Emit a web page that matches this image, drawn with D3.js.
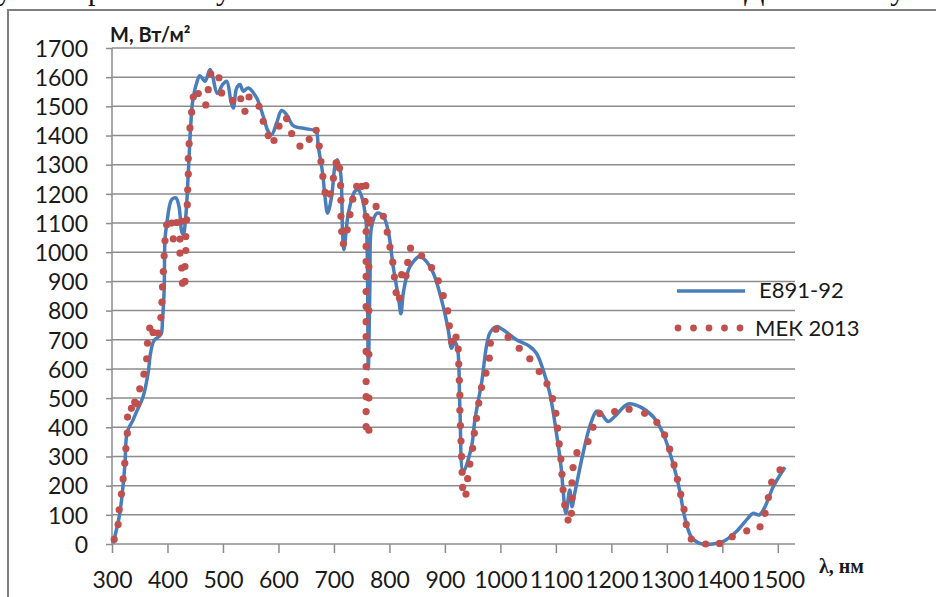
<!DOCTYPE html>
<html>
<head>
<meta charset="utf-8">
<script src="https://cdn.jsdelivr.net/npm/d3@7/dist/d3.min.js"></script>
<style>
  body { margin: 0; background: #fff; }
</style>
</head>
<body>
<div id="viz"></div>
<script>
// E891-92, сплошная сглаженная линия
var e891Wave = [302, 314, 323, 327.6, 338, 343, 356, 365, 369.5, 375.7, 388, 391, 394, 395.5, 398.5,
    407.5, 415, 420.7, 425.6, 428.5, 433, 437.5, 441.8, 445.4, 452.6, 458.5, 467.6, 476.6, 481.4, 489.8,
    499.5, 506.7, 514.4, 518.6, 524.7, 530.6, 536.6, 545.6, 560.7, 572.6, 581.6, 587.7, 596.7, 605.7, 614.7,
    626.6, 650.8, 667.6, 671.7, 679.5, 683.8, 688.6, 695.9, 701.8, 706, 712, 715.6, 718, 726, 737.8,
    743.8, 749.8, 757.6, 760, 762, 765, 768, 778, 789, 798, 806.8, 812.8, 817.6, 820.7, 825,
    831, 837, 855, 864, 879, 897, 906, 912, 918, 923, 927, 933, 948, 954, 966,
    981, 993, 1005, 1029, 1053, 1065, 1077, 1089, 1101, 1110, 1113, 1118, 1125, 1129, 1134,
    1149, 1161, 1173, 1179, 1194, 1206, 1230, 1251, 1275, 1293, 1311, 1323, 1332, 1344, 1359,
    1383, 1401, 1425, 1446, 1455, 1467, 1477, 1492, 1513];
var e891Value = [2, 105, 265, 385, 425, 448, 505, 585, 654, 697, 717, 768, 871, 1043, 1094,
    1180, 1186, 1157, 1071, 1060, 1123, 1272, 1432, 1517, 1580, 1605, 1586, 1626, 1603, 1544,
    1575, 1586, 1517, 1494, 1563, 1575, 1552, 1563, 1529, 1466, 1414, 1403, 1443, 1486, 1472,
    1434, 1423, 1414, 1363, 1272, 1192, 1134, 1192, 1295, 1317, 1272, 1066, 1009, 1134, 1209,
    1214, 1192, 1111, 1000, 600, 900, 1089, 1134, 1123, 1071, 951, 883, 826, 789, 860,
    917, 951, 986, 974, 929, 814, 734, 671, 694, 666, 471, 248, 334, 425, 551,
    723, 745, 734, 700, 677, 654, 597, 517, 380, 254, 185, 105, 185, 128, 174,
    311, 402, 455, 454, 420, 437, 480, 471, 437, 380, 277, 185, 94, 25, 2,
    0, 8, 42, 88, 105, 100, 128, 197, 263];

// МЕК 2013, точки
var mekWave = [304, 311, 313, 317, 320, 323, 325, 327.6, 328, 335, 341, 345.6, 350, 357.6, 362.5,
    364, 368, 374, 383, 388, 390, 391, 392.5, 394, 395.5, 398.5, 407.5, 410.5, 416.5, 422.5,
    422.5, 425.6, 425.6, 427, 431.5, 431.5, 433, 433, 434.6, 435.7, 436.4, 437.5, 437.5, 439, 440.5,
    443.5, 446.5, 455.5, 469, 473.5, 478, 492.8, 497.6, 517.5, 532, 539.6, 547, 565, 572.6, 581.6,
    592, 601, 614.7, 623.8, 638.7, 655.5, 668, 673.5, 676.6, 680, 684, 693, 699, 704, 710,
    712, 712.6, 712.6, 714, 717, 724, 729, 734, 741, 750, 756, 757.6,
    758, 758, 758, 758, 758, 758, 758, 758, 758, 758, 758, 758, 758, 758, 758,
    763, 763, 763, 763, 763, 763, 765, 776, 789, 796, 801, 806, 809, 812, 818,
    822, 830, 833, 838, 858, 876, 888, 897, 905, 908, 912, 920, 924, 925, 926,
    927, 927, 928, 929, 930, 931, 932, 938, 941, 945, 950, 953, 957, 961, 966,
    974, 980, 982, 992, 1014, 1034, 1053, 1070, 1084, 1094, 1100, 1103, 1106, 1109, 1111,
    1113, 1116, 1122, 1128, 1129, 1129, 1131, 1138, 1158, 1167, 1179, 1206, 1232, 1260, 1282,
    1296, 1305, 1313, 1319, 1325, 1331, 1335, 1344, 1370, 1395, 1418, 1444, 1468, 1477, 1483,
    1489, 1504];
var mekValue = [16, 67, 117, 171, 223, 277, 327, 380, 435, 465, 486, 480, 532, 582, 635,
    688, 740, 725, 723, 776, 829, 881, 934, 988, 1039, 1094, 1100, 1046, 1102, 1045,
    997, 1106, 946, 894, 900, 951, 1006, 1054, 1111, 1163, 1214, 1268, 1321, 1372, 1426,
    1480, 1532, 1544, 1505, 1557, 1611, 1598, 1546, 1520, 1526, 1483, 1532, 1500, 1449, 1400,
    1383, 1432, 1458, 1407, 1364, 1387, 1418, 1364, 1311, 1260, 1205, 1200, 1254, 1306, 1288,
    1229, 1178, 1123, 1071, 1029, 1077, 1129, 1182, 1226, 1226, 1174, 1228,
    1123, 1071, 1020, 968, 917, 865, 814, 762, 711, 660, 608, 557, 505, 454, 402,
    1100, 950, 800, 650, 500, 390, 1111, 1157, 1123, 1069, 1018, 966, 915, 862, 843,
    923, 919, 965, 1014, 988, 947, 902, 851, 799, 748, 694, 709, 668, 617, 561,
    510, 458, 406, 353, 300, 246, 194, 171, 224, 274, 328, 380, 431, 483, 536,
    586, 637, 688, 736, 709, 671, 635, 591, 549, 498, 448, 397, 343, 291, 239,
    186, 134, 82, 105, 157, 210, 262, 313, 351, 400, 447, 454, 462, 448, 417,
    374, 325, 271, 222, 170, 119, 67, 17, 0, 2, 25, 45, 59, 105, 159,
    212, 254];

var xTicks = [300, 400, 500, 600, 700, 800, 900, 1000, 1100, 1200, 1300, 1400, 1500];
var yTicks = [0, 100, 200, 300, 400, 500, 600, 700, 800, 900, 1000, 1100, 1200, 1300, 1400, 1500, 1600, 1700];
var seriesNames = ["E891-92", "МЕК 2013"];

var blue = "#4a7ebb";
var red = "#c0504d";
var gridColor = "#8c8c8c";
var font = "Lato, 'Open Sans', sans-serif";

var svg = d3.select("#viz").append("svg")
    .attr("width", 936)
    .attr("height", 597);

var x = d3.scaleLinear().domain([300, 1531]).range([112, 795]);
var y = d3.scaleLinear().domain([0, 1700]).range([544, 48]);

drawPageText();
drawFrame();
drawGrid();
drawAxes();
drawE891();
drawMek();
drawLegend();

// обрезанная строка текста документа над рисунком (видны только хвосты букв)
function drawPageText() {
    var words = [{x: -3, t: "у"}, {x: 72, t: "при"}, {x: 200, t: "ну"},
                 {x: 744, t: "Д"}, {x: 876, t: "ку"}];
    svg.append("g").selectAll("text")
        .data(words)
        .enter()
        .append("text")
        .attr("x", function(d) { return d.x; })
        .attr("y", 0)
        .attr("font-family", "'Liberation Serif', serif")
        .attr("font-size", "30px")
        .attr("fill", "#111")
        .text(function(d) { return d.t; });
}

function drawFrame() {
    svg.append("rect")
        .attr("x", 8)
        .attr("y", 10)
        .attr("width", 960)
        .attr("height", 620)
        .attr("fill", "#fff")
        .attr("stroke", "#7f7f7f")
        .attr("stroke-width", 2);
}

function drawGrid() {
    svg.append("g").selectAll("line")
        .data(yTicks.filter(function(d) { return d > 0; }))
        .enter()
        .append("line")
        .attr("x1", 112)
        .attr("x2", 795)
        .attr("y1", function(d) { return y(d); })
        .attr("y2", function(d) { return y(d); })
        .attr("stroke", gridColor)
        .attr("stroke-width", 1.5);
}

function drawAxes() {
    var xAxis = d3.axisBottom(x)
        .tickValues(xTicks)
        .tickSize(9)
        .tickFormat(d3.format("d"));

    var gx = svg.append("g")
        .attr("transform", "translate(0," + y(0) + ")")
        .call(xAxis);
    gx.select(".domain").attr("d", "M112,0H795").attr("stroke", gridColor).attr("stroke-width", 1.5);
    gx.selectAll(".tick line").attr("stroke", gridColor).attr("stroke-width", 1.5);
    gx.selectAll(".tick text")
        .attr("y", 44)
        .attr("dy", 0)
        .attr("font-family", font)
        .attr("font-size", "23px")
        .attr("fill", "#1a1a1a");

    var yAxis = d3.axisLeft(y)
        .tickValues(yTicks)
        .tickSize(6)
        .tickFormat(d3.format("d"));

    var gy = svg.append("g")
        .attr("transform", "translate(112,0)")
        .call(yAxis);
    gy.select(".domain").attr("d", "M0,48V544").attr("stroke", gridColor).attr("stroke-width", 1.5);
    gy.selectAll(".tick line").attr("stroke", gridColor).attr("stroke-width", 1.5);
    gy.selectAll(".tick text")
        .attr("x", -24)
        .attr("dy", "0.36em")
        .attr("font-family", font)
        .attr("font-size", "23px")
        .attr("fill", "#1a1a1a");

    svg.append("text")
        .attr("x", 110)
        .attr("y", 42)
        .attr("font-family", font)
        .attr("font-weight", "bold")
        .attr("font-size", "20px")
        .attr("fill", "#1a1a1a")
        .text("M, Вт/м²");

    svg.append("text")
        .attr("x", 819)
        .attr("y", 573)
        .attr("font-family", "'Liberation Serif', serif")
        .attr("font-weight", "bold")
        .attr("font-size", "20px")
        .attr("fill", "#1a1a1a")
        .text("λ, нм");
}

function drawE891() {
    var pts = e891Wave.map(function(w, i) { return [w, e891Value[i]]; });
    var line = d3.line()
        .curve(d3.curveCatmullRom.alpha(0.5))
        .x(function(d) { return x(d[0]); })
        .y(function(d) { return y(d[1]); });

    svg.append("path")
        .attr("d", line(pts))
        .attr("fill", "none")
        .attr("stroke", blue)
        .attr("stroke-width", 3.5)
        .attr("stroke-linejoin", "round");
}

function drawMek() {
    svg.append("g").selectAll("circle")
        .data(mekWave.map(function(w, i) { return [w, mekValue[i]]; }))
        .enter()
        .append("circle")
        .attr("cx", function(d) { return x(d[0]); })
        .attr("cy", function(d) { return y(d[1]); })
        .attr("r", 3.6)
        .attr("fill", red);
}

function drawLegend() {
    var lg = svg.append("g");
    lg.append("line")
        .attr("x1", 677).attr("x2", 745)
        .attr("y1", 291).attr("y2", 291)
        .attr("stroke", blue)
        .attr("stroke-width", 3.5);
    lg.selectAll("circle")
        .data([678, 693.5, 709, 724.5, 740])
        .enter()
        .append("circle")
        .attr("cx", function(d) { return d; })
        .attr("cy", 328)
        .attr("r", 3.4)
        .attr("fill", red);
    lg.selectAll("text")
        .data(seriesNames)
        .enter()
        .append("text")
        .attr("x", function(d, i) { return i ? 755 : 759; })
        .attr("y", function(d, i) { return i ? 336 : 298; })
        .attr("font-family", font)
        .attr("font-size", "22px")
        .attr("fill", "#1a1a1a")
        .text(function(d) { return d; });
}
</script>
</body>
</html>
